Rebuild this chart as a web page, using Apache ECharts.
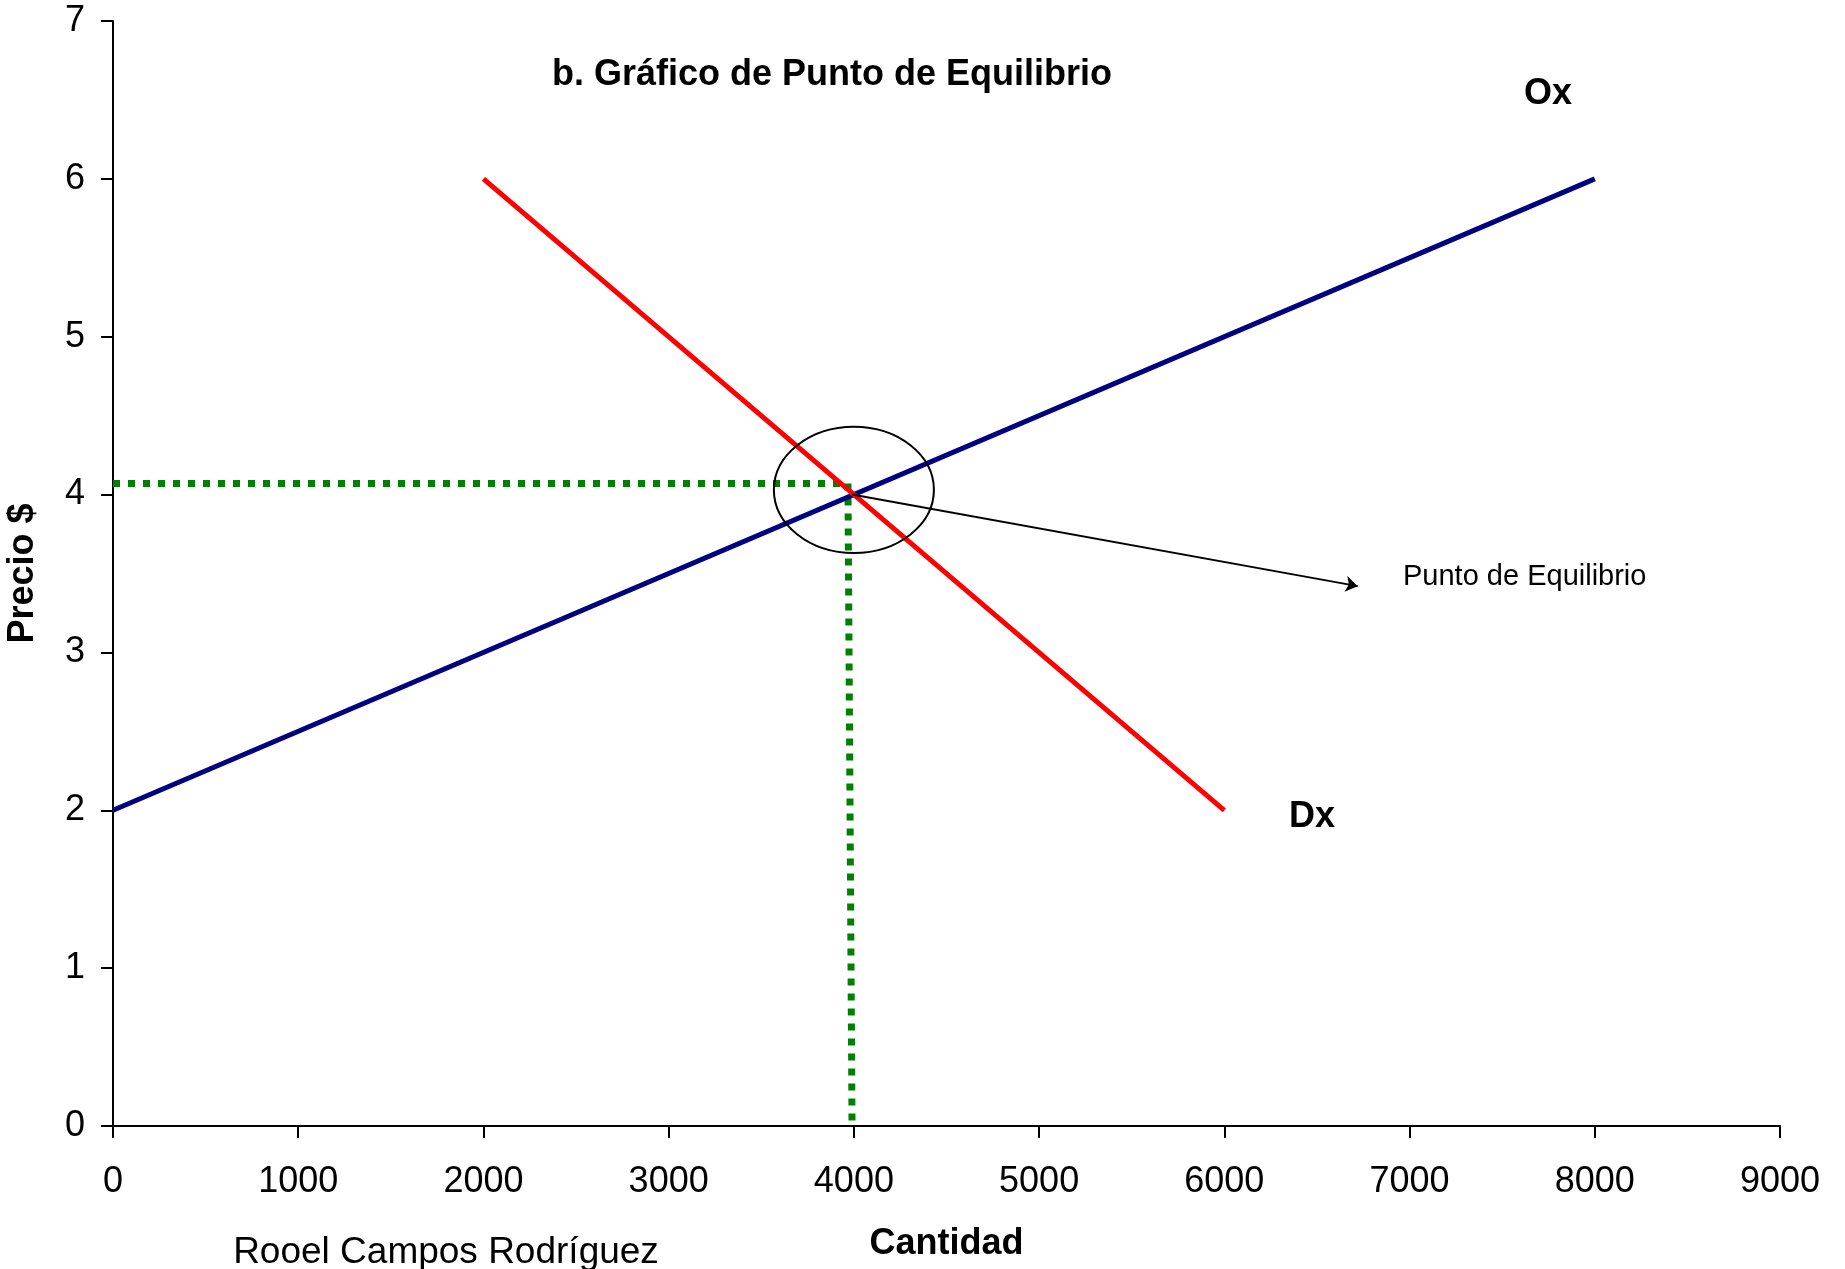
<!DOCTYPE html>
<html>
<head>
<meta charset="utf-8">
<title>Gráfico de Punto de Equilibrio</title>
<script src="https://cdn.jsdelivr.net/npm/echarts@6/dist/echarts.min.js"></script>
<style>
  html, body { margin: 0; padding: 0; background: #fff; }
  #chart { width: 1845px; height: 1269px; }
</style>
</head>
<body>
<div id="chart"></div>
<script>
// Supply (Ox) and demand (Dx) lines: [cantidad, precio]
var ofertaOx = [[0, 2], [8000, 6]];
var demandaDx = [[2000, 6], [6000, 2]];

// Dotted guides to the equilibrium point
var guiaEquilibrio = [[0, 4.07], [3968, 4.07], [3990, 0]];

// Ellipse marking the equilibrium: centre and radii in axis units
var elipseCentro = [4000, 4.03];
var elipseRadio = [432, 0.40];

// Pointer from the equilibrium to its caption
var flechaEquilibrio = [[3990, 4.0], [6720, 3.42]];

// Axis ranges and steps
var ejeX = { min: 0, max: 9000, interval: 1000 };
var ejeY = { min: 0, max: 7, interval: 1 };

var FONT = '"Liberation Sans", Arial, sans-serif';

var chart = echarts.init(document.getElementById('chart'));

chart.setOption({
  animation: false,
  backgroundColor: '#ffffff',
  grid: { left: 113, right: 65, top: 21, bottom: 143, containLabel: false, outerBoundsMode: 'none' },
  xAxis: {
    type: 'value',
    min: ejeX.min, max: ejeX.max, interval: ejeX.interval,
    name: 'Cantidad',
    nameLocation: 'middle',
    nameGap: 100,
    nameTextStyle: { fontFamily: FONT, fontSize: 36, fontWeight: 'bold', color: '#000' },
    axisLine: { show: true, onZero: false, lineStyle: { color: '#000', width: 2 } },
    axisTick: { show: true, length: 12, lineStyle: { color: '#000', width: 2 } },
    axisLabel: { fontFamily: FONT, fontSize: 36, color: '#000', margin: 38,
                 formatter: function (v) { return String(v); } },
    splitLine: { show: false }
  },
  yAxis: {
    type: 'value',
    min: ejeY.min, max: ejeY.max, interval: ejeY.interval,
    name: 'Precio $',
    nameLocation: 'middle',
    nameGap: 72,
    nameTextStyle: { fontFamily: FONT, fontSize: 36, fontWeight: 'bold', color: '#000' },
    axisLine: { show: true, onZero: false, lineStyle: { color: '#000', width: 2 } },
    axisTick: { show: true, length: 12, lineStyle: { color: '#000', width: 2 } },
    axisLabel: { fontFamily: FONT, fontSize: 36, color: '#000', margin: 28 },
    splitLine: { show: false }
  },
  series: [
    {
      name: 'Ox',
      type: 'line',
      data: ofertaOx,
      symbol: 'none',
      lineStyle: { color: '#000080', width: 5 },
      z: 3
    },
    {
      name: 'Dx',
      type: 'line',
      data: demandaDx,
      symbol: 'none',
      lineStyle: { color: '#ff0000', width: 5 },
      z: 3
    },
    {
      name: 'guia',
      type: 'line',
      data: guiaEquilibrio,
      symbol: 'none',
      lineStyle: { color: '#008000', width: 7, type: [7, 8], cap: 'butt' },
      z: 2
    },
    {
      name: 'elipse',
      type: 'custom',
      data: [elipseCentro],
      renderItem: function (params, api) {
        var c = api.coord([api.value(0), api.value(1)]);
        var e = api.coord([api.value(0) + elipseRadio[0], api.value(1) + elipseRadio[1]]);
        return {
          type: 'ellipse',
          shape: { cx: c[0], cy: c[1], rx: Math.abs(e[0] - c[0]), ry: Math.abs(c[1] - e[1]) },
          style: { fill: 'none', stroke: '#000', lineWidth: 2 }
        };
      },
      z: 4
    },
    {
      name: 'flecha',
      type: 'lines',
      coordinateSystem: 'cartesian2d',
      data: [{ coords: flechaEquilibrio }],
      symbol: ['none', 'arrow'],
      symbolSize: [8, 12],
      lineStyle: { color: '#000', width: 2, opacity: 1, curveness: 0 },
      z: 4
    }
  ],
  graphic: [
    {
      type: 'text',
      style: { text: 'b. Gráfico de Punto de Equilibrio', x: 832, y: 75, align: 'center', verticalAlign: 'middle',
               font: 'bold 36px ' + FONT, fill: '#000' }
    },
    {
      type: 'text',
      style: { text: 'Ox', x: 1548, y: 94, align: 'center', verticalAlign: 'middle',
               font: 'bold 36px ' + FONT, fill: '#000' }
    },
    {
      type: 'text',
      style: { text: 'Dx', x: 1312, y: 817, align: 'center', verticalAlign: 'middle',
               font: 'bold 36px ' + FONT, fill: '#000' }
    },
    {
      type: 'text',
      style: { text: 'Punto de Equilibrio', x: 1403, y: 577, align: 'left', verticalAlign: 'middle',
               font: '29px ' + FONT, fill: '#000' }
    },
    {
      type: 'text',
      style: { text: 'Rooel Campos Rodríguez', x: 446, y: 1253, align: 'center', verticalAlign: 'middle',
               font: '37px ' + FONT, fill: '#000' }
    }
  ]
});
</script>
</body>
</html>
